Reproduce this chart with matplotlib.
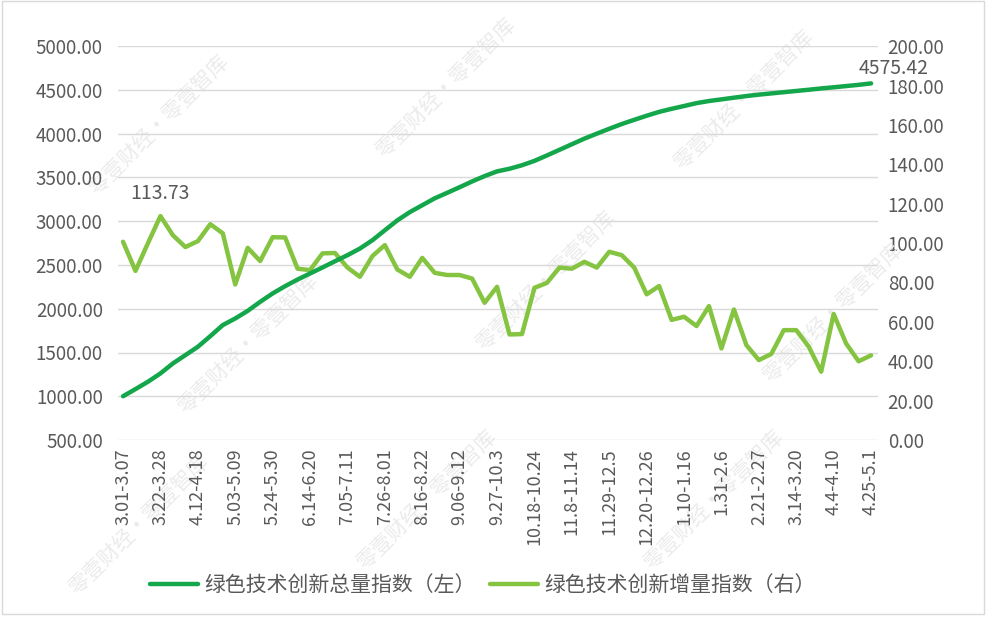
import matplotlib
matplotlib.use("Agg")
import matplotlib.pyplot as plt
from matplotlib.patches import Rectangle

plt.rcParams['font.family'] = ['Noto Sans CJK SC', 'DejaVu Sans']

# 周标签(每三周显示一个)
weeks_shown = ["3.01-3.07", "3.22-3.28", "4.12-4.18", "5.03-5.09", "5.24-5.30",
               "6.14-6.20", "7.05-7.11", "7.26-8.01", "8.16-8.22", "9.06-9.12",
               "9.27-10.3", "10.18-10.24", "11.8-11.14", "11.29-12.5", "12.20-12.26",
               "1.10-1.16", "1.31-2.6", "2.21-2.27", "3.14-3.20", "4.4-4.10", "4.25-5.1"]

# 绿色技术创新总量指数(左轴)
total_idx = [1000, 1082, 1166, 1261, 1375, 1470, 1565, 1687, 1813, 1889,
             1976, 2079, 2175, 2258, 2334, 2403, 2472, 2543, 2612, 2688,
             2783, 2897, 3010, 3104, 3183, 3262, 3325, 3389, 3455, 3516,
             3570, 3600, 3640, 3690, 3752, 3816, 3880, 3944, 4001, 4057,
             4111, 4159, 4206, 4250, 4285, 4317, 4350, 4374, 4393, 4412,
             4431, 4447, 4461, 4475, 4489, 4503, 4518, 4531, 4545, 4559,
             4575.42]

# 绿色技术创新增量指数(右轴)
incr_idx = [100.7, 85.9, 100.0, 113.73, 104.0, 98.0, 101.0, 109.6, 105.0, 79.0,
            97.6, 90.9, 103.0, 102.9, 87.0, 86.3, 94.8, 95.0, 87.6, 82.9,
            93.4, 99.0, 86.6, 82.9, 92.5, 84.9, 83.8, 83.8, 82.0, 69.7,
            77.8, 53.6, 53.8, 77.3, 79.8, 87.6, 87.0, 90.5, 87.6, 95.6,
            93.9, 87.6, 74.0, 78.2, 61.0, 62.6, 57.9, 68.0, 46.5, 66.3,
            48.2, 40.6, 43.7, 55.8, 55.8, 47.4, 34.7, 64.0, 49.0, 40.0,
            43.0]

left_ticks = [500, 1000, 1500, 2000, 2500, 3000, 3500, 4000, 4500, 5000]
right_ticks = [0, 20, 40, 60, 80, 100, 120, 140, 160, 180, 200]

dark = "#13A64B"
light = "#84C441"
gray = "#595959"

fig = plt.figure(figsize=(9.92, 6.25), dpi=100)
ax = fig.add_axes([0.119, 0.296, 0.766, 0.630])
ax2 = ax.twinx()

x = list(range(len(total_idx)))

# 水印
for wx, wy in [(0.16, 0.80), (0.45, 0.86), (0.75, 0.84), (0.25, 0.45), (0.55, 0.55),
               (0.84, 0.50), (0.14, 0.16), (0.43, 0.20), (0.72, 0.20)]:
    fig.text(wx, wy, "零壹财经·零壹智库", rotation=45, fontsize=15, color="#ebebeb",
             ha="center", va="center", zorder=0)

ax.set_zorder(ax2.get_zorder() + 1)
ax.patch.set_visible(False)

# 右轴换算到左轴刻度(0-200 对应 500-5000)
scale = (5000 - 500) / 200.0

l1, = ax.plot(x, total_idx, color=dark, lw=3.2, solid_capstyle="round",
              solid_joinstyle="round", label="绿色技术创新总量指数（左）", zorder=3)
l2, = ax.plot(x, [500 + v * scale for v in incr_idx], color=light, lw=3.2,
              solid_capstyle="round", solid_joinstyle="round",
              label="绿色技术创新增量指数（右）", zorder=2)

ax.set_ylim(500, 5000)
ax2.set_ylim(0, 200)
ax.set_xlim(-0.4, 60.55)
ax.set_yticks(left_ticks)
ax.set_yticklabels([f"{v:.2f}" for v in left_ticks])
ax2.set_yticks(right_ticks)
ax2.set_yticklabels([f"{v:.2f}" for v in right_ticks])
ax.set_xticks(x[::3])
ax.set_xticklabels(weeks_shown, rotation=90)

ax.grid(axis="y", color="#d9d9d9", lw=1)
for a in (ax, ax2):
    for s in a.spines.values():
        s.set_visible(False)
    a.tick_params(length=0, colors=gray, labelsize=13.5)
ax.tick_params(axis="x", labelsize=13, pad=6)
ax.tick_params(axis="y", pad=11)
ax2.tick_params(axis="y", pad=7)

ax.annotate(f"{incr_idx[3]:.2f}", (3, 500 + incr_idx[3] * scale), xytext=(0, 9),
            textcoords="offset points", ha="center", va="bottom", fontsize=14, color=gray)
ax.annotate(f"{total_idx[-1]:.2f}", (60, total_idx[-1]), xytext=(16, 3),
            textcoords="offset points", ha="center", va="bottom", fontsize=14, color=gray)

fig.legend(handles=[l1, l2], loc="center", bbox_to_anchor=(0.487, 0.064), ncol=2,
           frameon=False, fontsize=15, handlelength=2.3, columnspacing=0.7,
           labelcolor=gray, handletextpad=0.3)

fig.patches.append(Rectangle((0.002, 0.018), 0.99, 0.98, transform=fig.transFigure,
                             fill=False, edgecolor="#d9d9d9", lw=1))

fig.savefig("out.png", dpi=100)
